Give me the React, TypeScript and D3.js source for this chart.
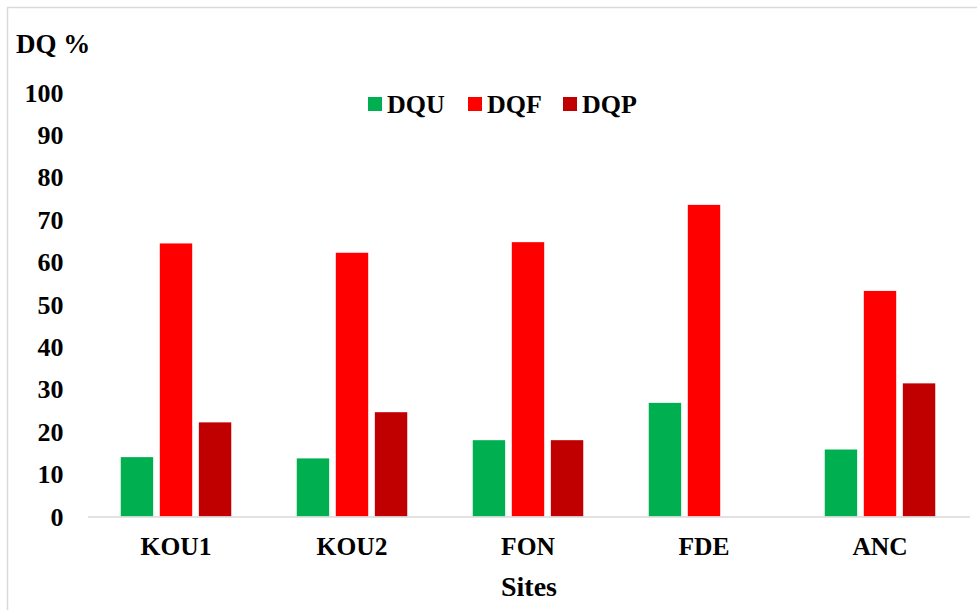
import React from "react";
import * as d3 from "d3";

const sites = ["KOU1", "KOU2", "FON", "FDE", "ANC"];
const seriesNames = ["DQU", "DQF", "DQP"];
const dqu = [14.0, 13.7, 18.0, 26.8, 15.8];
const dqf = [64.4, 62.2, 64.7, 73.5, 53.2];
const dqp = [22.2, 24.6, 18.0, 0, 31.4];
const colors = ["#00b050", "#ff0000", "#c00000"];
const yTicks = [0, 10, 20, 30, 40, 50, 60, 70, 80, 90, 100];

const W = 977;
const H = 610;
const FAMILY = '"Times New Roman", "Liberation Serif", serif';

const font = (size: number): React.CSSProperties => ({
  fontFamily: FAMILY,
  fontWeight: 700,
  fontSize: `${size}px`,
});

export default function App() {
  const x0 = d3.scaleBand<string>().domain(sites).range([88, 968]).paddingInner(0).paddingOuter(0);
  const innerW = 110.5;
  const x1 = d3
    .scaleBand<string>()
    .domain(seriesNames)
    .range([(x0.bandwidth() - innerW) / 2, (x0.bandwidth() + innerW) / 2])
    .paddingInner(0.17);
  const y = d3.scaleLinear().domain([0, 100]).range([516.5, 92.5]);
  const data = [dqu, dqf, dqp];

  const legendItems = [
    { name: "DQU", x: 368 },
    { name: "DQF", x: 468 },
    { name: "DQP", x: 563 },
  ];

  return (
    <div style={{ position: "absolute", left: 0, top: 0, width: W, height: H, fontFamily: FAMILY }}>
      <svg width={W} height={H} style={{ display: "block" }}>
        <rect x={0} y={0} width={W} height={H} fill="#fff" />
        <rect x={7.5} y={7.5} width={W + 10} height={H + 10} fill="none" stroke="#d9d9d9" strokeWidth={1.5} />
        <text x={16} y={53} style={font(27)}>DQ %</text>
        {yTicks.map((t) => (
          <text key={t} x={63.5} y={y(t)} dy="0.35em" textAnchor="end" style={font(26)}>
            {t}
          </text>
        ))}
        {sites.map((s, i) => (
          <g key={s} transform={`translate(${x0(s)},0)`}>
            {seriesNames.map((n, j) =>
              data[j][i] > 0 ? (
                <rect
                  key={n}
                  x={x1(n)}
                  y={y(data[j][i])}
                  width={x1.bandwidth()}
                  height={y(0) - y(data[j][i])}
                  fill={colors[j]}
                />
              ) : null
            )}
            <text x={x0.bandwidth() / 2} y={546} dy="0.35em" textAnchor="middle" style={font(25.5)}>
              {s}
            </text>
          </g>
        ))}
        <line x1={88} x2={970} y1={517} y2={517} stroke="#d9d9d9" strokeWidth={1.5} />
        <text x={529} y={586} dy="0.35em" textAnchor="middle" style={font(28)}>Sites</text>
        {legendItems.map((l, j) => (
          <g key={l.name}>
            <rect x={l.x} y={97} width={14} height={14} fill={colors[j]} />
            <text x={l.x + 19} y={104} dy="0.35em" style={font(26)}>{l.name}</text>
          </g>
        ))}
      </svg>
    </div>
  );
}
